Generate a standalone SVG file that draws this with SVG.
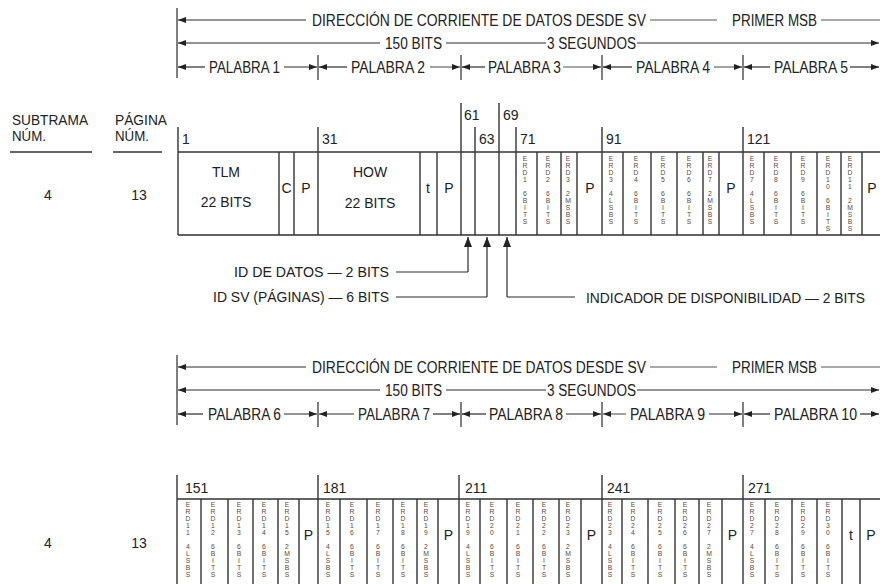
<svg xmlns="http://www.w3.org/2000/svg" width="880" height="584" viewBox="0 0 880 584">
<style>
.ln{stroke:#2a2a2a;stroke-width:1.2;fill:none}
.lt{stroke:#8c8c8c;stroke-width:1.6;fill:none}
.tb{stroke:#333;stroke-width:1.4;fill:none}
text{font-family:"Liberation Sans",Arial,sans-serif;fill:#222}
.h{font-size:16px}
.s{font-size:15px}
.a{font-size:14.5px}
.c{font-size:14px;text-anchor:middle}
.n{font-size:14px}
.v{font-size:6.8px;writing-mode:vertical-rl;text-orientation:upright;fill:#5a4a3a}
</style>
<defs>
<marker id="ah" viewBox="0 0 8 6" refX="8" refY="3" markerWidth="8" markerHeight="6" markerUnits="userSpaceOnUse" orient="auto-start-reverse"><path d="M0,0 L8,3 L0,6 z" fill="#222"/></marker>
<marker id="au" viewBox="0 0 10 8" refX="10" refY="4" markerWidth="10" markerHeight="8" markerUnits="userSpaceOnUse" orient="auto"><path d="M0,0 L10,4 L0,8 z" fill="#222"/></marker>
</defs>

<!-- Left headers -->
<g id="left-headers">
<text class="s" x="12" y="125" textLength="76" lengthAdjust="spacingAndGlyphs">SUBTRAMA</text>
<text class="s" x="12" y="141" textLength="34" lengthAdjust="spacingAndGlyphs">NÚM.</text>
<line class="tb" x1="10" y1="152" x2="92" y2="152"/>
<text class="s" x="115" y="125" textLength="52" lengthAdjust="spacingAndGlyphs">PÁGINA</text>
<text class="s" x="115" y="141" textLength="34" lengthAdjust="spacingAndGlyphs">NÚM.</text>
<line class="tb" x1="113" y1="152" x2="162" y2="152"/>
<text class="c" x="48" y="200">4</text>
<text class="c" x="139" y="200">13</text>
<text class="c" x="48" y="548">4</text>
<text class="c" x="139" y="548">13</text>
</g>

<!-- Upper header -->
<g id="header1">
<line class="ln" x1="177" y1="8" x2="177" y2="78"/>
<line class="ln" x1="178" y1="20" x2="306" y2="20" marker-start="url(#ah)"/>
<text class="h" x="312" y="25.8" textLength="334" lengthAdjust="spacingAndGlyphs">DIRECCIÓN DE CORRIENTE DE DATOS DESDE SV</text>
<line class="lt" x1="650" y1="20" x2="717" y2="20"/>
<text class="h" x="732" y="25.8" textLength="85" lengthAdjust="spacingAndGlyphs">PRIMER MSB</text>
<line class="lt" x1="821" y1="20" x2="880" y2="20"/>
<line class="ln" x1="178" y1="43" x2="380" y2="43" marker-start="url(#ah)"/>
<text class="h" x="385" y="48.8" textLength="57" lengthAdjust="spacingAndGlyphs">150 BITS</text>
<line class="ln" x1="446" y1="43" x2="546" y2="43"/>
<text class="h" x="547" y="48.8" textLength="89" lengthAdjust="spacingAndGlyphs">3 SEGUNDOS</text>
<line class="ln" x1="637" y1="43" x2="879" y2="43" marker-end="url(#ah)"/>
<line class="ln" x1="318" y1="55" x2="318" y2="80"/>
<line class="ln" x1="461" y1="55" x2="461" y2="80"/>
<line class="ln" x1="602" y1="55" x2="602" y2="80"/>
<line class="ln" x1="743" y1="55" x2="743" y2="80"/>
<line class="ln" x1="178" y1="67" x2="205" y2="67" marker-start="url(#ah)"/>
<text class="h" x="209" y="72.8" textLength="71" lengthAdjust="spacingAndGlyphs">PALABRA 1</text>
<line class="ln" x1="284" y1="67" x2="317" y2="67" marker-end="url(#ah)"/>
<line class="ln" x1="319" y1="67" x2="347" y2="67" marker-start="url(#ah)"/>
<text class="h" x="351" y="72.8" textLength="74" lengthAdjust="spacingAndGlyphs">PALABRA 2</text>
<line class="lt" x1="430" y1="67" x2="460" y2="67" marker-end="url(#ah)"/>
<line class="ln" x1="462" y1="67" x2="485" y2="67" marker-start="url(#ah)"/>
<text class="h" x="488" y="72.8" textLength="73" lengthAdjust="spacingAndGlyphs">PALABRA 3</text>
<line class="lt" x1="563" y1="67" x2="601" y2="67" marker-end="url(#ah)"/>
<line class="ln" x1="603" y1="67" x2="632" y2="67" marker-start="url(#ah)"/>
<text class="h" x="636" y="72.8" textLength="74" lengthAdjust="spacingAndGlyphs">PALABRA 4</text>
<line class="lt" x1="714" y1="67" x2="742" y2="67" marker-end="url(#ah)"/>
<line class="ln" x1="744" y1="67" x2="770" y2="67" marker-start="url(#ah)"/>
<text class="h" x="774" y="72.8" textLength="74" lengthAdjust="spacingAndGlyphs">PALABRA 5</text>
<line class="ln" x1="850" y1="67" x2="879" y2="67" marker-end="url(#ah)"/>
</g>

<!-- Upper table -->
<g id="table1">
<path class="tb" d="M178,152 H880 M178,235 H880 M178,127 V235 M318,127 V235 M461,103 V235 M475,127 V235 M499,103 V235 M516,127 V235 M602,127 V235 M743,127 V235 M279,152 V235 M294,152 V235 M420,152 V235 M437,152 V235 M537,152 V235 M561,152 V235 M577,152 V235 M623,152 V235 M651,152 V235 M677,152 V235 M703,152 V235 M719,152 V235 M764,152 V235 M791,152 V235 M817,152 V235 M841,152 V235 M862,152 V235"/>
<text class="n" x="182" y="144">1</text>
<text class="n" x="322" y="144">31</text>
<text class="n" x="464" y="120">61</text>
<text class="n" x="479" y="144">63</text>
<text class="n" x="503" y="120">69</text>
<text class="n" x="520" y="144">71</text>
<text class="n" x="606" y="144">91</text>
<text class="n" x="747" y="144">121</text>
<text class="c" x="226" y="177">TLM</text>
<text class="c" x="226" y="207">22 BITS</text>
<text class="c" x="286.5" y="193">C</text>
<text class="c" x="306" y="193">P</text>
<text class="c" x="370" y="177">HOW</text>
<text class="c" x="370" y="208">22 BITS</text>
<text class="c" x="428" y="193">t</text>
<text class="c" x="449" y="193">P</text>
<text class="c" x="590" y="193">P</text>
<text class="c" x="731" y="193">P</text>
<text class="c" x="872" y="193">P</text>
<text class="v" x="525" y="155">ERD1 6BITS</text>
<text class="v" x="548" y="155">ERD2 6BITS</text>
<text class="v" x="568" y="155">ERD3 2MSBS</text>
<text class="v" x="611" y="155">ERD3 4LSBS</text>
<text class="v" x="636" y="155">ERD4 6BITS</text>
<text class="v" x="663" y="155">ERD5 6BITS</text>
<text class="v" x="689" y="155">ERD6 6BITS</text>
<text class="v" x="710" y="155">ERD7 2MSBS</text>
<text class="v" x="752" y="155">ERD7 4LSBS</text>
<text class="v" x="776" y="155">ERD8 6BITS</text>
<text class="v" x="803" y="155">ERD9 6BITS</text>
<text class="v" x="828" y="155">ERD10 6BITS</text>
<text class="v" x="850" y="155">ERD11 2MSBS</text>
</g>

<!-- Annotation connectors -->
<g id="connectors">
<line class="ln" x1="468" y1="272" x2="468" y2="237" marker-end="url(#au)"/>
<line class="ln" x1="487" y1="297" x2="487" y2="237" marker-end="url(#au)"/>
<line class="ln" x1="507" y1="297" x2="507" y2="237" marker-end="url(#au)"/>
<line class="ln" x1="396" y1="272" x2="468" y2="272"/>
<line class="ln" x1="396" y1="297" x2="487" y2="297"/>
<line class="ln" x1="507" y1="297" x2="575" y2="297"/>
</g>
<g id="annotations">
<text class="a" x="389" y="277.3" text-anchor="end" textLength="155" lengthAdjust="spacingAndGlyphs">ID DE DATOS — 2 BITS</text>
<text class="a" x="389" y="302.3" text-anchor="end" textLength="176" lengthAdjust="spacingAndGlyphs">ID SV (PÁGINAS) — 6 BITS</text>
<text class="a" x="586" y="302.8" textLength="279" lengthAdjust="spacingAndGlyphs">INDICADOR DE DISPONIBILIDAD — 2 BITS</text>
</g>

<!-- Lower header -->
<g id="header2" transform="translate(0,347)">
<line class="ln" x1="177" y1="8" x2="177" y2="78"/>
<line class="ln" x1="178" y1="20" x2="306" y2="20" marker-start="url(#ah)"/>
<text class="h" x="312" y="25.8" textLength="334" lengthAdjust="spacingAndGlyphs">DIRECCIÓN DE CORRIENTE DE DATOS DESDE SV</text>
<line class="lt" x1="650" y1="20" x2="717" y2="20"/>
<text class="h" x="732" y="25.8" textLength="85" lengthAdjust="spacingAndGlyphs">PRIMER MSB</text>
<line class="lt" x1="821" y1="20" x2="880" y2="20"/>
<line class="ln" x1="178" y1="43" x2="380" y2="43" marker-start="url(#ah)"/>
<text class="h" x="385" y="48.8" textLength="57" lengthAdjust="spacingAndGlyphs">150 BITS</text>
<line class="ln" x1="446" y1="43" x2="546" y2="43"/>
<text class="h" x="547" y="48.8" textLength="89" lengthAdjust="spacingAndGlyphs">3 SEGUNDOS</text>
<line class="ln" x1="637" y1="43" x2="879" y2="43" marker-end="url(#ah)"/>
<line class="ln" x1="318" y1="55" x2="318" y2="80"/>
<line class="ln" x1="461" y1="55" x2="461" y2="80"/>
<line class="ln" x1="602" y1="55" x2="602" y2="80"/>
<line class="ln" x1="743" y1="55" x2="743" y2="80"/>
<line class="ln" x1="178" y1="67" x2="203" y2="67" marker-start="url(#ah)"/>
<text class="h" x="208" y="72.8" textLength="73" lengthAdjust="spacingAndGlyphs">PALABRA 6</text>
<line class="ln" x1="284" y1="67" x2="317" y2="67" marker-end="url(#ah)"/>
<line class="ln" x1="319" y1="67" x2="354" y2="67" marker-start="url(#ah)"/>
<text class="h" x="358" y="72.8" textLength="72" lengthAdjust="spacingAndGlyphs">PALABRA 7</text>
<line class="ln" x1="433" y1="67" x2="460" y2="67" marker-end="url(#ah)"/>
<line class="ln" x1="462" y1="67" x2="486" y2="67" marker-start="url(#ah)"/>
<text class="h" x="489" y="72.8" textLength="74" lengthAdjust="spacingAndGlyphs">PALABRA 8</text>
<line class="ln" x1="566" y1="67" x2="601" y2="67" marker-end="url(#ah)"/>
<line class="lt" x1="603" y1="67" x2="626" y2="67" marker-start="url(#ah)"/>
<text class="h" x="630" y="72.8" textLength="75" lengthAdjust="spacingAndGlyphs">PALABRA 9</text>
<line class="ln" x1="709" y1="67" x2="742" y2="67" marker-end="url(#ah)"/>
<line class="ln" x1="744" y1="67" x2="770" y2="67" marker-start="url(#ah)"/>
<text class="h" x="774" y="72.8" textLength="83" lengthAdjust="spacingAndGlyphs">PALABRA 10</text>
<line class="ln" x1="860" y1="67" x2="879" y2="67" marker-end="url(#ah)"/>
</g>

<!-- Lower table -->
<g id="table2">
<path class="tb" d="M177,499 H880 M177,475 V584 M318,475 V584 M459,475 V584 M602,475 V584 M743,475 V584 M201,499 V584 M228,499 V584 M253,499 V584 M278,499 V584 M299,499 V584 M340,499 V584 M367,499 V584 M393,499 V584 M417,499 V584 M438,499 V584 M480,499 V584 M507,499 V584 M533,499 V584 M559,499 V584 M581,499 V584 M622,499 V584 M648,499 V584 M675,499 V584 M699,499 V584 M722,499 V584 M765,499 V584 M792,499 V584 M817,499 V584 M842,499 V584 M860,499 V584"/>
<text class="n" x="185" y="493">151</text>
<text class="n" x="323" y="493">181</text>
<text class="n" x="465" y="493">211</text>
<text class="n" x="607" y="493">241</text>
<text class="n" x="748" y="493">271</text>
<text class="c" x="308.5" y="540">P</text>
<text class="c" x="448.5" y="540">P</text>
<text class="c" x="591.5" y="540">P</text>
<text class="c" x="732.5" y="540">P</text>
<text class="c" x="851" y="540">t</text>
<text class="c" x="871" y="540">P</text>
<text class="v" x="188" y="501">ERD11 4LSBS</text>
<text class="v" x="213" y="501">ERD12 6BITS</text>
<text class="v" x="239" y="501">ERD13 6BITS</text>
<text class="v" x="264" y="501">ERD14 6BITS</text>
<text class="v" x="287" y="501">ERD15 2MSBS</text>
<text class="v" x="328" y="501">ERD15 4LSBS</text>
<text class="v" x="352" y="501">ERD16 6BITS</text>
<text class="v" x="378" y="501">ERD17 6BITS</text>
<text class="v" x="403" y="501">ERD18 6BITS</text>
<text class="v" x="426" y="501">ERD19 2MSBS</text>
<text class="v" x="468" y="501">ERD19 4LSBS</text>
<text class="v" x="492" y="501">ERD20 6BITS</text>
<text class="v" x="518" y="501">ERD21 6BITS</text>
<text class="v" x="544" y="501">ERD22 6BITS</text>
<text class="v" x="568" y="501">ERD23 2MSBS</text>
<text class="v" x="610" y="501">ERD23 4LSBS</text>
<text class="v" x="633" y="501">ERD24 6BITS</text>
<text class="v" x="660" y="501">ERD25 6BITS</text>
<text class="v" x="685" y="501">ERD26 6BITS</text>
<text class="v" x="709" y="501">ERD27 2MSBS</text>
<text class="v" x="752" y="501">ERD27 4LSBS</text>
<text class="v" x="777" y="501">ERD28 6BITS</text>
<text class="v" x="803" y="501">ERD29 6BITS</text>
<text class="v" x="828" y="501">ERD30 6BITS</text>
</g>
</svg>
